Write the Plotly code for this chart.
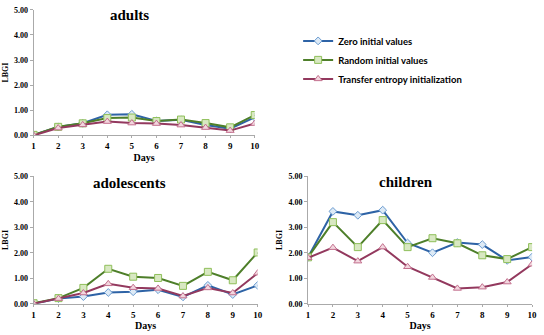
import plotly.graph_objects as go

days = [1, 2, 3, 4, 5, 6, 7, 8, 9, 10]
series_names = ["Zero initial values", "Random initial values", "Transfer entropy initialization"]

adults_zero = [0.02, 0.33, 0.48, 0.82, 0.84, 0.57, 0.62, 0.41, 0.27, 0.72]
adults_random = [0.02, 0.34, 0.48, 0.69, 0.71, 0.57, 0.63, 0.49, 0.32, 0.81]
adults_transfer = [0.00, 0.29, 0.42, 0.55, 0.49, 0.47, 0.41, 0.31, 0.19, 0.47]

adol_zero = [0.00, 0.20, 0.28, 0.44, 0.47, 0.55, 0.27, 0.72, 0.36, 0.72]
adol_random = [0.02, 0.22, 0.62, 1.37, 1.06, 1.01, 0.70, 1.25, 0.92, 2.01]
adol_transfer = [0.00, 0.20, 0.42, 0.78, 0.63, 0.60, 0.30, 0.62, 0.42, 1.20]

child_zero = [1.82, 3.62, 3.47, 3.67, 2.38, 2.00, 2.40, 2.32, 1.70, 1.83]
child_random = [1.82, 3.20, 2.22, 3.28, 2.22, 2.57, 2.37, 1.90, 1.75, 2.22]
child_transfer = [1.80, 2.20, 1.67, 2.22, 1.45, 1.03, 0.60, 0.65, 0.85, 1.55]

panels = [
    ("adults", [adults_zero, adults_random, adults_transfer]),
    ("adolescents", [adol_zero, adol_random, adol_transfer]),
    ("children", [child_zero, child_random, child_transfer]),
]

W, H = 544, 335
# pixel boxes: (x_left, x_right, y_top, y_bottom)
boxes = [(32, 256, 6, 135), (32, 259, 177, 308), (310, 537, 177, 308)]

line_colors = ["#2E63A6", "#4E7F2A", "#93395E"]
marker_fill = ["#DDEAF6", "#D8E8C2", "#F2D6DE"]
marker_line = ["#6A9BD0", "#8FBF5A", "#C3708E"]
symbols = ["diamond", "square", "triangle-up"]
msizes = [6, 7, 7]

fig = go.Figure()
serif = "Liberation Serif"

for i, (title, data) in enumerate(panels):
    xl, xr, yt, yb = boxes[i]
    xa = "xaxis" if i == 0 else f"xaxis{i+1}"
    ya = "yaxis" if i == 0 else f"yaxis{i+1}"
    xref = "x" if i == 0 else f"x{i+1}"
    yref = "y" if i == 0 else f"y{i+1}"
    for s in range(3):
        fig.add_trace(go.Scatter(
            x=days, y=data[s], mode="lines+markers", name=series_names[s],
            xaxis=xref, yaxis=yref, showlegend=(i == 0),
            line=dict(color=line_colors[s], width=2),
            marker=dict(symbol=symbols[s], size=msizes[s], color=marker_fill[s],
                        line=dict(color=marker_line[s], width=1)),
        ))
    fig.layout[xa] = dict(
        domain=[xl / W, xr / W], range=[1, 10], anchor=yref,
        tickvals=days, ticks="outside", ticklen=2, tickcolor="#AAAAAA",
        showline=True, linecolor="#AAAAAA", linewidth=1, showgrid=False, zeroline=False,
        tickfont=dict(family=serif, size=9, color="#000000", weight="bold"),
        title=dict(text="<b>Days</b>", font=dict(family=serif, size=10, color="#000000"), standoff=3),
    )
    fig.layout[ya] = dict(
        domain=[1 - yb / H, 1 - yt / H], range=[0, 5], anchor=xref,
        tickvals=[0, 1, 2, 3, 4, 5], tickformat=".2f", ticks="outside", ticklen=3,
        tickcolor="#AAAAAA", showline=True, linecolor="#AAAAAA", linewidth=1,
        showgrid=False, zeroline=False,
        tickfont=dict(family=serif, size=8, color="#000000", weight="bold"),
        title=dict(text="<b>LBGI</b>", font=dict(family=serif, size=8, color="#000000"), standoff=4),
    )
    tx = {0: 129, 1: 129, 2: 409}[i]
    ty = {0: 11, 1: 184, 2: 183}[i]
    fig.add_annotation(text=f"<b>{title}</b>", x=tx / W, y=1 - ty / H, xref="paper", yref="paper",
                       showarrow=False, font=dict(family=serif, size=15, color="#000000"),
                       xanchor="center", yanchor="middle")

fig.update_layout(
    width=W, height=H, margin=dict(l=0, r=0, t=0, b=0),
    paper_bgcolor="white", plot_bgcolor="white",
    legend=dict(x=300 / W, y=1 - 23 / H, xanchor="left", yanchor="top",
                font=dict(family="Lato", size=9.5, color="#000000", weight="bold"),
                bgcolor="rgba(0,0,0,0)", tracegroupgap=0, itemwidth=30),
)

fig.write_html("out.html")
